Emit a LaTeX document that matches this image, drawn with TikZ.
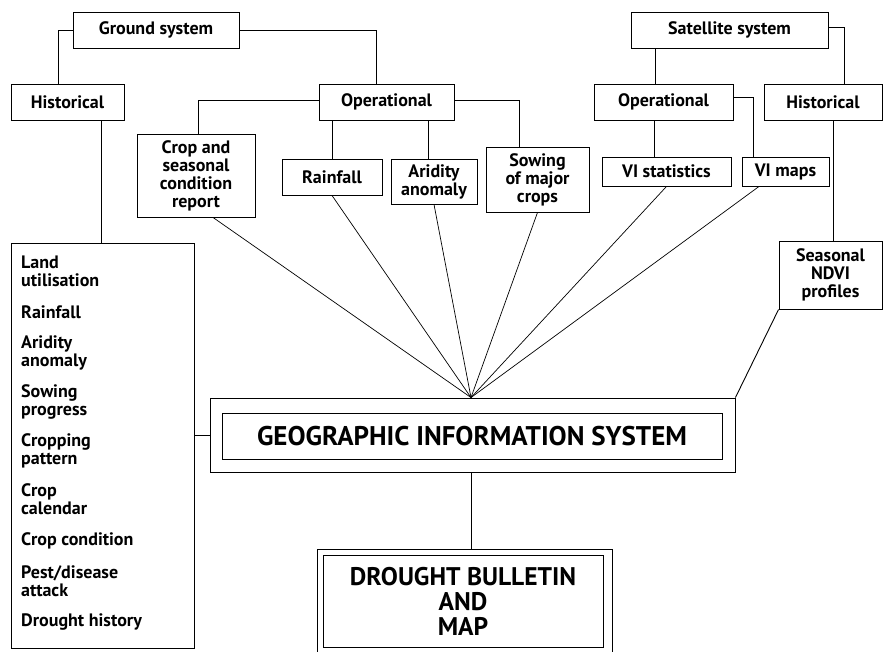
\documentclass[tikz,border=0pt]{standalone}
\usepackage{fontspec}
\setmainfont{PT Sans}
\begin{document}
\begin{tikzpicture}[x=1pt,y=-1pt,
  box/.style={draw, line width=0.9pt, inner sep=0pt, align=center,
    font=\bfseries\fontsize{18}{18}\selectfont},
  item/.style={anchor=west, inner sep=0pt, align=left,
    font=\bfseries\fontsize{18}{18}\selectfont},
  big/.style={draw, line width=0.9pt, inner sep=0pt, align=center,
    font=\bfseries\fontsize{27}{30}\selectfont},
  link/.style={draw, line width=0.9pt},
  fanline/.style={draw, line width=0.7pt}]
\useasboundingbox (0,0) rectangle (883,651);
\clip (0,0) rectangle (883,651);
% ground system
\node[box, minimum width=166, minimum height=36] (gs) at (156,30) {Ground system};
\node[box, minimum width=113, minimum height=36] (ghist) at (67.5,102) {Historical};
\node[box, minimum width=135, minimum height=36] (gop) at (386.5,102) {Operational};
\node[box, minimum width=118, minimum height=83] (crop) at (196,175.5) {Crop and\\seasonal\\condition\\report};
\node[box, minimum width=100, minimum height=36] (rain) at (332,177) {Rainfall};
\node[box, minimum width=86, minimum height=45] (arid) at (434,181.5) {Aridity\\anomaly};
\node[box, minimum width=103, minimum height=65] (sow) at (537.5,179.5) {Sowing\\of major\\crops};
% satellite system
\node[box, minimum width=197, minimum height=36] (ss) at (729.5,30) {Satellite system};
\node[box, minimum width=139, minimum height=36] (sop) at (663.5,102) {Operational};
\node[box, minimum width=118, minimum height=36] (shist) at (823,102) {Historical};
\node[box, minimum width=129, minimum height=29] (vis) at (666.5,171.5) {VI statistics};
\node[box, minimum width=87, minimum height=29] (vim) at (785.5,171.5) {VI maps};
\node[box, minimum width=103, minimum height=68] (ndvi) at (830.5,275) {Seasonal\\NDVI\\profiles};
% historical list
\node[draw, line width=0.9pt, minimum width=183, minimum height=405, inner sep=0pt] (list) at (102.5,445.5) {};
\node[item] (l1) at (21,271) {Land\\utilisation};
\node[item] (l2) at (21,312) {Rainfall};
\node[item] (l3) at (21,353) {Aridity\\anomaly};
\node[item] (l4) at (21,402) {Sowing\\progress};
\node[item] (l5) at (21,451) {Cropping\\pattern};
\node[item] (l6) at (21,499) {Crop\\calendar};
\node[item] (l7) at (21,541) {Crop condition};
\node[item] (l8) at (21,581) {Pest/disease\\attack};
\node[item] (l9) at (21,622) {Drought history};
% GIS
\node[draw, line width=0.9pt, minimum width=525, minimum height=74, inner sep=0pt] (gis) at (472.5,435) {};
\node[big, minimum width=500, minimum height=46] (gisin) at (472,436) {GEOGRAPHIC INFORMATION SYSTEM};
% drought bulletin
\node[draw, line width=0.9pt, minimum width=295, minimum height=130, inner sep=0pt] (dr) at (464.5,614) {};
\node[big, minimum width=280, minimum height=92, font=\bfseries\fontsize{25.5}{25}\selectfont] (drin) at (463,601) {DROUGHT BULLETIN\\AND\\MAP};
% connectors
\draw[link] (gs.west) -| ([xshift=-9.5pt]ghist.north);
\draw[link] (gs.east) -| ([xshift=-10.5pt]gop.north);
\draw[link] ([yshift=2pt]gop.west) -| ([xshift=2pt]crop.north);
\draw[link] (rain.north) -- (rain.north |- gop.south);
\draw[link] ([xshift=-6pt]arid.north) -- ([xshift=-6pt]arid.north |- gop.south);
\draw[link] ([yshift=2pt]gop.east) -| ([xshift=-18.5pt]sow.north);
\draw[link] ([xshift=-8.5pt]sop.north) -- ([xshift=-8.5pt]sop.north |- ss.south);
\draw[link] ([yshift=3pt]ss.east) -| ([xshift=21pt]shist.north);
\draw[link] ([xshift=-12.5pt]vis.north) -- ([xshift=-12.5pt]vis.north |- sop.south);
\draw[link] ([yshift=5pt]sop.east) -| ([xshift=-32.5pt]vim.north);
\draw[link] ([xshift=10.5pt]shist.south) -- ([xshift=10.5pt]shist.south |- ndvi.north);
\draw[link] (ndvi.south west) -- (gis.north east);
\draw[link] ([xshift=33.5pt]ghist.south) -- ([xshift=33.5pt]ghist.south |- list.north);
\draw[link] (list.east |- gis.west) -- (gis.west);
\draw[link] ([xshift=-1.5pt]gis.south) -- ([xshift=-1.5pt]gis.south |- dr.north);
\coordinate (fan) at ([xshift=-1.5pt]gis.north);
\draw[fanline] ([xshift=17pt]crop.south) -- (fan);
\draw[fanline] (rain.south) -- (fan);
\draw[fanline] (arid.south) -- (fan);
\draw[fanline] (sow.south) -- (fan);
\draw[fanline] (vis.south) -- (fan);
\draw[fanline] ([xshift=-26.5pt]vim.south) -- (fan);
\end{tikzpicture}
\end{document}
